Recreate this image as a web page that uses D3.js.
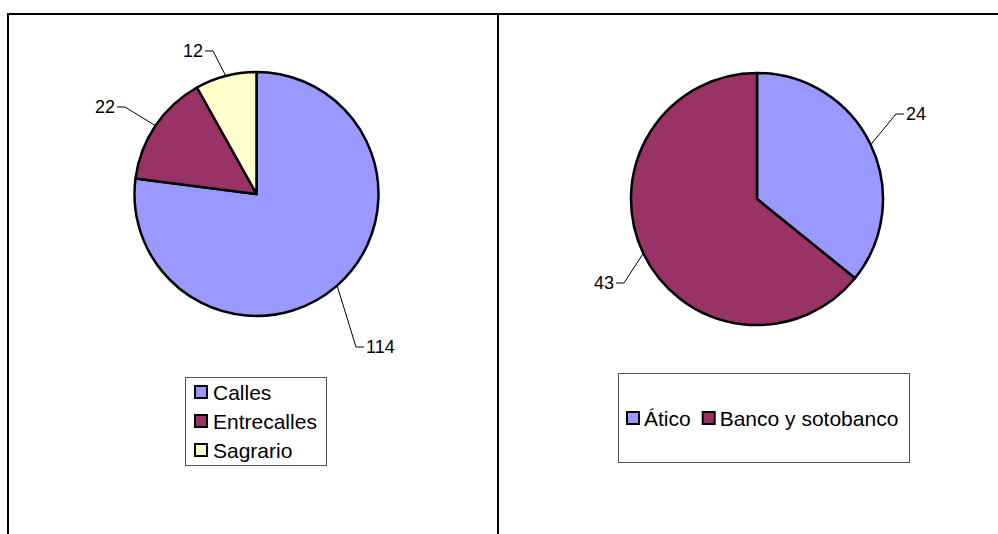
<!DOCTYPE html>
<html><head><meta charset="utf-8">
<script src="https://cdn.jsdelivr.net/npm/d3@7"></script>
<style>body{margin:0;background:#fff}svg{display:block}</style>
</head><body>
<svg id="c" width="998" height="534"></svg>
<script>
// data
const leftCategories = ["Calles", "Entrecalles", "Sagrario"];
const leftValues = [114, 22, 12];
const rightCategories = ["Ático", "Banco y sotobanco"];
const rightValues = [24, 43];
const colors = ["#9999FF", "#993366", "#FFFFCC"];

const svg = d3.select("#c");
const FONT = "Arial, 'Liberation Sans', sans-serif";

// frame
svg.append("line").attr("x1", 7).attr("x2", 998).attr("y1", 14).attr("y2", 14).attr("stroke", "#000").attr("stroke-width", 2);
svg.append("line").attr("x1", 8).attr("x2", 8).attr("y1", 13).attr("y2", 534).attr("stroke", "#000").attr("stroke-width", 2);
svg.append("line").attr("x1", 498).attr("x2", 498).attr("y1", 13).attr("y2", 534).attr("stroke", "#000").attr("stroke-width", 2);

function drawPie(cfg) {
  const pie = d3.pie().sort(null).value(d => d)(cfg.values);
  const arc = d3.arc().innerRadius(0).outerRadius(cfg.r);
  const g = svg.append("g").attr("transform", `translate(${cfg.cx},${cfg.cy})`);
  g.selectAll("path").data(pie).join("path")
    .attr("d", arc)
    .attr("fill", (d, i) => colors[i])
    .attr("stroke", "#000").attr("stroke-width", 2.5).attr("stroke-linejoin", "round");
  // leader lines + labels
  pie.forEach((d, i) => {
    const a = (d.startAngle + d.endAngle) / 2;
    const p0 = [cfg.r * Math.sin(a), -cfg.r * Math.cos(a)];
    const e = cfg.elbows[i];
    const dir = e[0] < p0[0] ? -1 : 1;
    const p2 = [e[0] + dir * 8, e[1]];
    g.append("polyline")
      .attr("points", [p0, e, p2].map(p => p.join(",")).join(" "))
      .attr("fill", "none").attr("stroke", "#000").attr("stroke-width", 1);
    g.append("text")
      .attr("x", p2[0] + dir * 2).attr("y", p2[1]).attr("dy", "0.36em")
      .attr("text-anchor", dir < 0 ? "end" : "start")
      .attr("font-family", FONT).attr("font-size", 18).attr("fill", "#000")
      .text(d.data);
  });
}

drawPie({ cx: 256.5, cy: 194, r: 122, values: leftValues,
  elbows: [[99.5, 153], [-131.5, -87], [-43.5, -143]] });
drawPie({ cx: 757, cy: 199, r: 126, values: rightValues,
  elbows: [[139, -85], [-133, 84]] });

// left legend (vertical)
const lg = svg.append("g");
lg.append("rect").attr("x", 185.5).attr("y", 377.5).attr("width", 141).attr("height", 88)
  .attr("fill", "#fff").attr("stroke", "#555").attr("stroke-width", 1);
const ly = d3.scalePoint().domain(leftCategories).range([392, 450]);
leftCategories.forEach((c, i) => {
  lg.append("rect").attr("x", 195).attr("y", ly(c) - 6).attr("width", 12).attr("height", 12)
    .attr("fill", colors[i]).attr("stroke", "#000").attr("stroke-width", 2);
  lg.append("text").attr("x", 213).attr("y", ly(c)).attr("dy", "0.36em")
    .attr("font-family", FONT).attr("font-size", 21).attr("fill", "#000").text(c);
});

// right legend (horizontal)
const rg = svg.append("g");
rg.append("rect").attr("x", 618.5).attr("y", 373.5).attr("width", 291).attr("height", 89)
  .attr("fill", "#fff").attr("stroke", "#555").attr("stroke-width", 1);
let x = 627;
const rY = 418;
rightCategories.forEach((c, i) => {
  rg.append("rect").attr("x", x).attr("y", rY - 6).attr("width", 12).attr("height", 12)
    .attr("fill", colors[i]).attr("stroke", "#000").attr("stroke-width", 2);
  const t = rg.append("text").attr("x", x + 17).attr("y", rY).attr("dy", "0.36em")
    .attr("font-family", FONT).attr("font-size", 21).attr("fill", "#000").text(c);
  x = x + 17 + t.node().getComputedTextLength() + 12;
});
</script>
</body></html>
